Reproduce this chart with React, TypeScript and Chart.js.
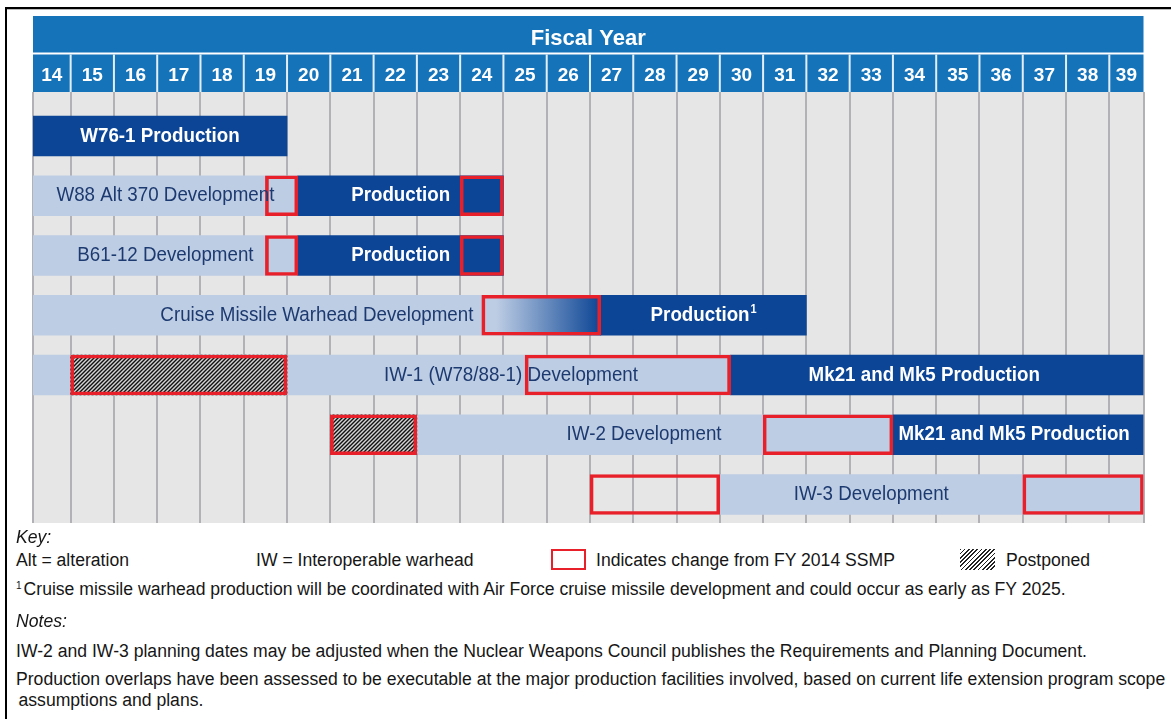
import React, { useEffect, useRef } from 'react';
import { Chart, registerables } from 'chart.js';

Chart.register(...registerables);

// ---------------- data ----------------
// visible fiscal-year range (first and last columns are partly cut)
const xMin = 14.13;
const xMax = 39.79;
const fiscalYears = [14, 15, 16, 17, 18, 19, 20, 21, 22, 23, 24, 25, 26, 27, 28, 29, 30, 31, 32, 33, 34, 35, 36, 37, 38, 39];

const programs = ['W76-1', 'W88 Alt 370', 'B61-12', 'Cruise Missile Warhead', 'IW-1 (W78/88-1)', 'IW-2', 'IW-3'];
const rowMin = -0.736;
const rowMax = 6.477;

// [row, start FY, end FY]
const developmentBars = [
  [1, xMin, 20.25],
  [2, xMin, 20.25],
  [3, xMin, 24.5],
  [4, xMin, 30.25],
  [5, 23, 34],
  [6, 30, xMax],
];
const productionBars = [
  [0, xMin, 20],
  [1, 20.25, 25],
  [2, 20.25, 25],
  [3, 27.25, 32],
  [4, 30.25, xMax],
  [5, 34, xMax],
];
const transitionBars = [[3, 24.5, 27.25]];
const postponedBars = [
  [4, 15, 20],
  [5, 21, 23],
];
const changedBars = [
  [1, 19.5, 20.25],
  [1, 24, 25],
  [2, 19.5, 20.25],
  [2, 24, 25],
  [3, 24.5, 27.25],
  [4, 15, 20],
  [4, 25.5, 30.25],
  [5, 21, 23],
  [5, 31, 34],
  [6, 27, 30],
  [6, 37, xMax],
];
// [row, text, span start, span end, kind, superscript]
const barLabels = [
  [0, 'W76-1 Production', xMin, 20, 'prod', ''],
  [1, 'W88 Alt 370 Development', xMin, 20.25, 'dev', ''],
  [1, 'Production', 20.25, 25, 'prod', ''],
  [2, 'B61-12 Development', xMin, 20.25, 'dev', ''],
  [2, 'Production', 20.25, 25, 'prod', ''],
  [3, 'Cruise Missile Warhead Development', xMin, 27.25, 'dev', ''],
  [3, 'Production', 27.25, 32, 'prod', '1'],
  [4, 'IW-1 (W78/88-1) Development', 20.1, 30.25, 'dev', ''],
  [4, 'Mk21 and Mk5 Production', 30.25, 39.2, 'prod', ''],
  [5, 'IW-2 Development', 23, 33.5, 'dev', ''],
  [5, 'Mk21 and Mk5 Production', 34, 39.6, 'prod', ''],
  [6, 'IW-3 Development', 30, 37, 'dev', ''],
];

// ---------------- styles ----------------
const FONT = "'Liberation Sans', Arial, Helvetica, sans-serif";
const HEADER_BLUE = '#1573b9';
const DARK = '#0c4595';
const LIGHT = '#bdcde4';
const RED = '#e8202a';
const NAVY = '#1d3a70';
const GRID_BG = '#e6e6e6';
const GRID_LINE = '#b2b2b6';

const toPoints = (bars: number[][]) => bars.map(([r, s, e]) => ({ y: r, x: [s, e] }));

function makeHatch(): CanvasPattern | string {
  const c = document.createElement('canvas');
  c.width = 4;
  c.height = 4;
  const g = c.getContext('2d');
  if (!g) return '#555';
  g.fillStyle = '#d4d4d4';
  g.fillRect(0, 0, 4, 4);
  g.strokeStyle = '#111';
  g.lineWidth = 1.4;
  g.beginPath();
  g.moveTo(0, 4);
  g.lineTo(4, 0);
  g.moveTo(-1, 1);
  g.lineTo(1, -1);
  g.moveTo(3, 5);
  g.lineTo(5, 3);
  g.stroke();
  const p = g.createPattern(c, 'repeat');
  return p || '#555';
}

const headerPlugin = {
  id: 'header',
  beforeDraw(chart: any) {
    const { ctx, chartArea } = chart;
    const xs = chart.scales.x;
    const { left, right, top, bottom } = chartArea;
    ctx.save();
    ctx.fillStyle = GRID_BG;
    ctx.fillRect(left, top, right - left, bottom - top);
    ctx.fillStyle = HEADER_BLUE;
    ctx.fillRect(left, xs.top, right - left, 36.5);
    ctx.fillRect(left, xs.top + 38.5, right - left, xs.bottom - xs.top - 38.5);
    ctx.fillStyle = '#e4eef8';
    for (const y of fiscalYears.slice(1)) {
      const px = xs.getPixelForValue(y);
      ctx.fillRect(px - 1, xs.top + 38.5, 2, xs.bottom - xs.top - 38.5);
    }
    ctx.restore();
  },
};

const labelPlugin = {
  id: 'barLabels',
  afterDatasetsDraw(chart: any) {
    const { ctx } = chart;
    const xs = chart.scales.x;
    const ys = chart.scales.y;
    for (const [row, text, from, to, kind, sup] of barLabels as any[]) {
      const cx = (xs.getPixelForValue(from) + xs.getPixelForValue(to)) / 2;
      const cy = ys.getPixelForValue(row);
      const mainFont = `${kind === 'prod' ? 'bold ' : ''}20.5px ${FONT}`;
      const supFont = `bold 12px ${FONT}`;
      ctx.save();
      ctx.translate(cx, cy + 5.7);
      ctx.scale(0.915, 1);
      ctx.textBaseline = 'alphabetic';
      ctx.textAlign = 'left';
      ctx.fillStyle = kind === 'prod' ? '#ffffff' : NAVY;
      ctx.font = mainFont;
      const w = ctx.measureText(text).width;
      let sw = 0;
      if (sup) {
        ctx.font = supFont;
        sw = ctx.measureText(sup).width + 1;
      }
      const x0 = -(w + sw) / 2;
      ctx.font = mainFont;
      ctx.fillText(text, x0, 0);
      if (sup) {
        ctx.font = supFont;
        ctx.fillText(sup, x0 + w + 1, -8);
      }
      ctx.restore();
    }
  },
};

function GanttChart() {
  const ref = useRef<HTMLCanvasElement | null>(null);
  useEffect(() => {
    if (!ref.current) return;
    const hatch = makeHatch();
    const common = { barThickness: 40, grouped: false, borderSkipped: false, xAxisID: 'x', yAxisID: 'y' };
    const chart = new Chart(ref.current, {
      type: 'bar',
      data: {
        datasets: [
          {
            ...common,
            label: 'Change from FY 2014 SSMP',
            data: toPoints(changedBars),
            backgroundColor: 'rgba(0,0,0,0)',
            borderColor: RED,
            borderWidth: 3,
            order: 0,
          },
          {
            ...common,
            label: 'Postponed',
            data: toPoints(postponedBars),
            backgroundColor: hatch,
            borderWidth: 0,
            order: 1,
          },
          {
            ...common,
            label: 'Transition',
            data: toPoints(transitionBars),
            backgroundColor: (c: any) => {
              const ch = c.chart;
              const xs = ch.scales && ch.scales.x;
              if (!ch.chartArea || !xs || !c.raw || !c.raw.x) return LIGHT;
              const [s, e] = c.raw.x;
              const g = ch.ctx.createLinearGradient(xs.getPixelForValue(s), 0, xs.getPixelForValue(e), 0);
              g.addColorStop(0, LIGHT);
              g.addColorStop(0.12, LIGHT);
              g.addColorStop(1, DARK);
              return g;
            },
            borderWidth: 0,
            order: 2,
          },
          {
            ...common,
            label: 'Production',
            data: toPoints(productionBars),
            backgroundColor: DARK,
            borderWidth: 0,
            order: 3,
          },
          {
            ...common,
            label: 'Development',
            data: toPoints(developmentBars),
            backgroundColor: LIGHT,
            borderWidth: 0,
            order: 4,
          },
        ] as any,
      },
      options: {
        indexAxis: 'y',
        animation: false,
        responsive: true,
        maintainAspectRatio: false,
        devicePixelRatio: 1,
        events: [],
        layout: { padding: { left: 33, right: 27.5, top: 16, bottom: 7 } },
        plugins: { legend: { display: false }, tooltip: { enabled: false } },
        scales: {
          x: {
            type: 'linear',
            position: 'top',
            min: xMin,
            max: xMax,
            offset: false,
            grid: { display: false },
            border: { display: false },
            afterBuildTicks: (scale: any) => {
              scale.ticks = fiscalYears.map((y) => ({ value: (Math.max(y, xMin) + Math.min(y + 1, xMax)) / 2 }));
            },
            afterFit: (scale: any) => {
              scale.height = 76;
            },
            ticks: {
              autoSkip: false,
              maxRotation: 0,
              minRotation: 0,
              padding: -1.5,
              color: '#ffffff',
              font: { family: FONT, size: 19, weight: 'bold', lineHeight: 1 },
              callback: (v: any) => String(Math.floor(Number(v))),
            },
            title: {
              display: true,
              text: 'Fiscal Year',
              color: '#ffffff',
              font: { family: FONT, size: 22, weight: 'bold', lineHeight: 1 },
              padding: { top: 11.5, bottom: 0 },
            },
          },
          xg: {
            type: 'linear',
            position: 'bottom',
            min: xMin,
            max: xMax,
            offset: false,
            afterBuildTicks: (scale: any) => {
              scale.ticks = [xMin, ...fiscalYears.slice(1), xMax].map((v) => ({ value: v }));
            },
            afterFit: (scale: any) => {
              scale.height = 0;
            },
            grid: { display: true, color: GRID_LINE, lineWidth: 2, drawTicks: false },
            border: { display: false },
            ticks: { display: false },
          },
          y: {
            type: 'linear',
            reverse: true,
            offset: false,
            min: rowMin,
            max: rowMax,
            display: false,
          },
        },
      } as any,
      plugins: [headerPlugin, labelPlugin],
    });
    return () => chart.destroy();
  }, []);
  return <canvas ref={ref} aria-label={programs.join(', ')} />;
}

const txt: React.CSSProperties = {
  position: 'absolute',
  fontFamily: FONT,
  fontSize: '17.6px',
  lineHeight: '20px',
  color: '#161616',
  whiteSpace: 'nowrap',
};

export default function App() {
  return (
    <div style={{ position: 'absolute', left: 0, top: 0, width: 1171, height: 719, background: '#fff', overflow: 'hidden' }}>
      <div style={{ position: 'absolute', left: 0, top: 0, width: 1171, height: 530 }}>
        <GanttChart />
      </div>
      {/* frame */}
      <div style={{ position: 'absolute', left: 5, top: 7, width: 1166, height: 2, background: '#000' }} />
      <div style={{ position: 'absolute', left: 5, top: 9, width: 1166, height: 1, background: '#bbb' }} />
      <div style={{ position: 'absolute', left: 5, top: 7, width: 2, height: 712, background: '#000' }} />

      <div style={{ ...txt, left: 16, top: 526.5, fontStyle: 'italic' }}>Key:</div>
      <div style={{ ...txt, left: 16, top: 549.5 }}>Alt = alteration</div>
      <div style={{ ...txt, left: 256, top: 549.5 }}>IW = Interoperable warhead</div>
      <div
        style={{
          position: 'absolute',
          left: 551,
          top: 549,
          width: 35,
          height: 21,
          border: `2.5px solid ${RED}`,
          boxSizing: 'border-box',
        }}
      />
      <div style={{ ...txt, left: 596, top: 549.5 }}>Indicates change from FY 2014 SSMP</div>
      <div
        style={{
          position: 'absolute',
          left: 960,
          top: 549,
          width: 35,
          height: 21,
          background: 'repeating-linear-gradient(135deg, #222 0 1.2px, #fff 1.2px 3px)',
        }}
      />
      <div style={{ ...txt, left: 1006, top: 549.5 }}>Postponed</div>
      <div style={{ ...txt, left: 16, top: 578.5 }}>
        <span style={{ fontSize: 10, position: 'relative', top: -6, marginRight: 2 }}>1</span>
        Cruise missile warhead production will be coordinated with Air Force cruise missile development and could occur as early as FY 2025.
      </div>
      <div style={{ ...txt, left: 16, top: 611, fontStyle: 'italic' }}>Notes:</div>
      <div style={{ ...txt, left: 16, top: 640.5 }}>
        IW-2 and IW-3 planning dates may be adjusted when the Nuclear Weapons Council publishes the Requirements and Planning Document.
      </div>
      <div style={{ ...txt, left: 16, top: 668.5 }}>
        Production overlaps have been assessed to be executable at the major production facilities involved, based on current life extension program scope
      </div>
      <div style={{ ...txt, left: 18.5, top: 689.5 }}>assumptions and plans.</div>
    </div>
  );
}
